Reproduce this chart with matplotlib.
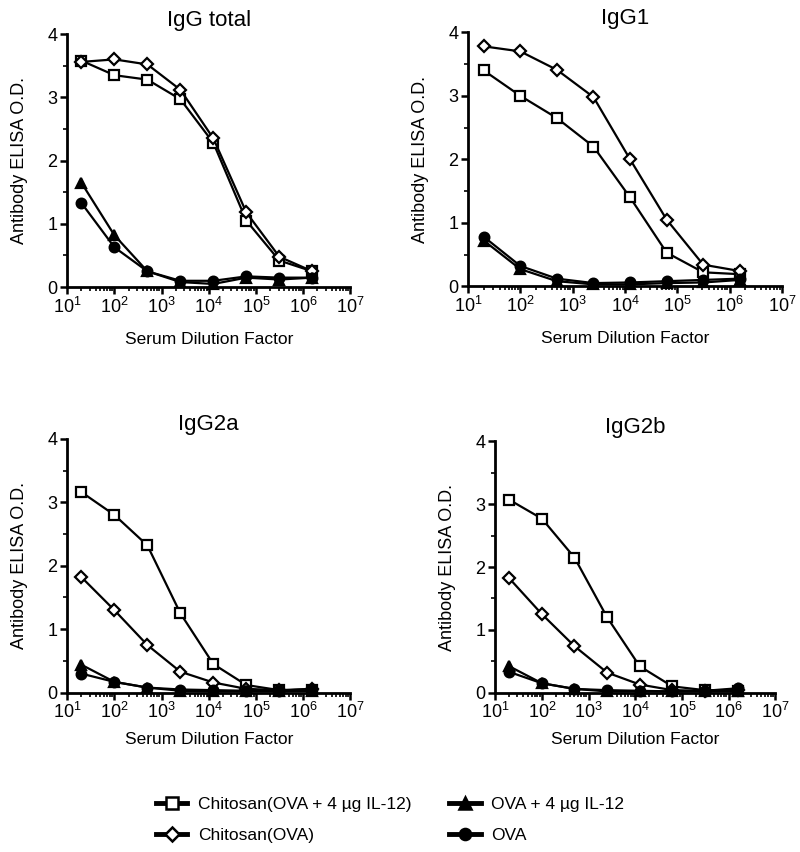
import matplotlib.pyplot as plt
from matplotlib.lines import Line2D
from matplotlib.ticker import LogLocator, MultipleLocator

plt.rcParams['font.family'] = ['Liberation Sans', 'DejaVu Sans']

# Serum dilutions (5-fold series starting at 1:20)
dilution = [20, 100, 500, 2500, 12500, 62500, 312500, 1562500]

groups = ['Chitosan(OVA + 4 \u00b5g IL-12)', 'Chitosan(OVA)', 'OVA + 4 \u00b5g IL-12', 'OVA']

# IgG total
igg_chito_il12 = [3.58, 3.35, 3.28, 2.97, 2.28, 1.05, 0.42, 0.25]
igg_chito = [3.56, 3.60, 3.52, 3.12, 2.35, 1.18, 0.48, 0.25]
igg_ova_il12 = [1.65, 0.82, 0.25, 0.08, 0.05, 0.15, 0.12, 0.15]
igg_ova = [1.33, 0.63, 0.25, 0.10, 0.10, 0.17, 0.15, 0.15]

# IgG1
igg1_chito_il12 = [3.40, 3.00, 2.65, 2.20, 1.40, 0.53, 0.22, 0.19]
igg1_chito = [3.78, 3.70, 3.41, 2.98, 2.00, 1.05, 0.34, 0.24]
igg1_ova_il12 = [0.72, 0.27, 0.08, 0.03, 0.03, 0.05, 0.06, 0.10]
igg1_ova = [0.78, 0.32, 0.12, 0.05, 0.06, 0.08, 0.10, 0.12]

# IgG2a
igg2a_chito_il12 = [3.16, 2.80, 2.32, 1.25, 0.45, 0.12, 0.04, 0.04]
igg2a_chito = [1.82, 1.30, 0.75, 0.33, 0.16, 0.06, 0.04, 0.06]
igg2a_ova_il12 = [0.44, 0.17, 0.08, 0.03, 0.02, 0.02, 0.02, 0.03]
igg2a_ova = [0.30, 0.17, 0.08, 0.05, 0.04, 0.03, 0.03, 0.06]

# IgG2b
igg2b_chito_il12 = [3.07, 2.77, 2.15, 1.20, 0.42, 0.10, 0.04, 0.02]
igg2b_chito = [1.82, 1.25, 0.74, 0.32, 0.13, 0.04, 0.03, 0.05]
igg2b_ova_il12 = [0.42, 0.15, 0.06, 0.02, 0.02, 0.02, 0.02, 0.02]
igg2b_ova = [0.33, 0.15, 0.06, 0.04, 0.03, 0.02, 0.03, 0.07]

markers = ['s', 'D', '^', 'o']
faces = ['white', 'white', 'black', 'black']
sizes = [7, 6, 7.5, 7]


# Function to draw one isotype panel
def plot_panel(ax, title, series, xpad):
    for vals, m, fc, ms in zip(series, markers, faces, sizes):
        ax.plot(dilution, vals, color='black', lw=1.6, marker=m, markersize=ms,
                markerfacecolor=fc, markeredgecolor='black', markeredgewidth=1.6, clip_on=False)
    ax.set_xscale('log')
    ax.set_xlim(10, 1e7)
    ax.set_ylim(0, 4)
    ax.set_yticks([0, 1, 2, 3, 4])
    ax.yaxis.set_minor_locator(MultipleLocator(0.5))
    ax.xaxis.set_major_locator(LogLocator(base=10, numticks=10))
    ax.xaxis.set_minor_locator(LogLocator(base=10, subs=range(2, 10), numticks=20))
    ax.spines['top'].set_visible(False)
    ax.spines['right'].set_visible(False)
    ax.spines['left'].set_linewidth(2)
    ax.spines['bottom'].set_linewidth(2)
    ax.tick_params(which='major', direction='out', length=5, width=1.8, labelsize=13, pad=2)
    ax.tick_params(which='minor', direction='out', length=3, width=1.2)
    ax.set_title(title, fontsize=16, pad=6)
    ax.set_xlabel('Serum Dilution Factor', fontsize=12.5, labelpad=xpad)
    ax.set_ylabel('Antibody ELISA O.D.', fontsize=13, labelpad=14)


def main():
    fig = plt.figure(figsize=(8, 8.52), dpi=100)

    ax1 = fig.add_axes([0.084, 0.663, 0.354, 0.297])
    ax2 = fig.add_axes([0.585, 0.664, 0.3925, 0.298])
    ax3 = fig.add_axes([0.084, 0.187, 0.354, 0.298])
    ax4 = fig.add_axes([0.619, 0.187, 0.35, 0.295])

    plot_panel(ax1, 'IgG total', [igg_chito_il12, igg_chito, igg_ova_il12, igg_ova], 11)
    plot_panel(ax2, 'IgG1', [igg1_chito_il12, igg1_chito, igg1_ova_il12, igg1_ova], 11)
    plot_panel(ax3, 'IgG2a', [igg2a_chito_il12, igg2a_chito, igg2a_ova_il12, igg2a_ova], 7)
    plot_panel(ax4, 'IgG2b', [igg2b_chito_il12, igg2b_chito, igg2b_ova_il12, igg2b_ova], 7)

    # legend proxies with thicker lines, like the original figure
    handles = [Line2D([], [], color='black', lw=3.5, marker=m, markersize=ms + 1,
                      markerfacecolor=fc, markeredgecolor='black', markeredgewidth=1.8)
               for m, fc, ms in zip(markers, faces, sizes)]
    fig.legend(handles, groups, ncol=2, loc='upper left', bbox_to_anchor=(0.195, 0.065),
               frameon=False, fontsize=12.5, handlelength=1.8, handletextpad=0.6,
               columnspacing=2.2, labelspacing=0.93, borderpad=0, borderaxespad=0)

    fig.savefig('out.png', dpi=100)


if __name__ == "__main__":
    main()
